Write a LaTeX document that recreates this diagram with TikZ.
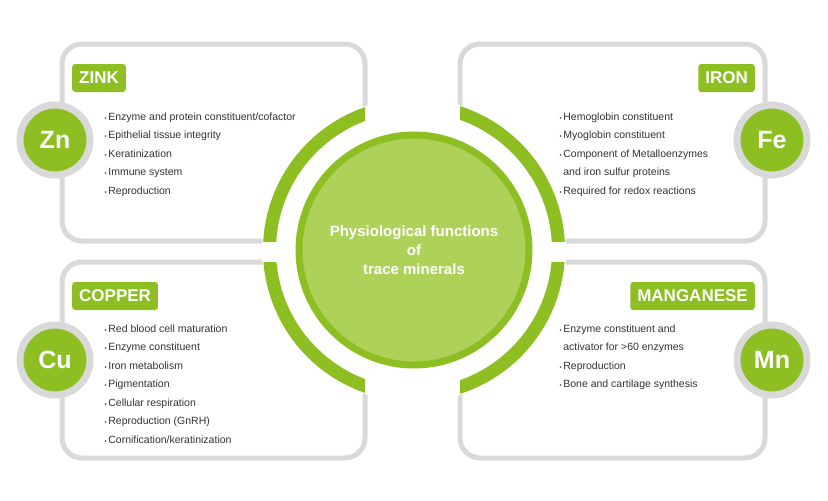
\documentclass[tikz,border=0pt]{standalone}
\usepackage{fontspec}
\setmainfont{Liberation Sans}
\definecolor{leaf}{HTML}{8DBE22}
\definecolor{lime}{HTML}{AED15A}
\definecolor{frame}{HTML}{D9D9D9}
\definecolor{ink}{HTML}{333333}
\newcommand\dotmark{{\fontsize{6}{6}\selectfont •}\,}
\begin{document}
\begin{tikzpicture}[x=1pt,y=-1pt,
    panel/.style={draw=frame, line width=5pt, rounded corners=20pt, fill=white},
    tag/.style={fill=leaf, rounded corners=3pt, text=white, font=\fontsize{17}{17}\selectfont\bfseries, inner xsep=7pt, minimum height=28pt, anchor=west},
    elem/.style={circle, fill=leaf, draw=frame, line width=7pt, minimum size=70pt, text=white, font=\fontsize{25}{25}\selectfont\bfseries},
    items/.style={anchor=north west, text=ink, font=\fontsize{10.5}{18.5}\selectfont, align=left}]
    \useasboundingbox (0,0) rectangle (828,501);

    % boxes
    \draw[panel] (62,44) rectangle (365,241);
    \draw[panel] (460,44) rectangle (765,241);
    \draw[panel] (62,262) rectangle (365,458);
    \draw[panel] (460,262) rectangle (765,458);

    % ring around the centre
    \coordinate (O) at (414,250);
    \fill[white] (O) circle (152pt);
    \foreach \bx/\by/\ex/\ey in {62/44/365/241, 460/44/765/241, 62/262/365/458, 460/262/765/458}{
        \begin{scope}
            \clip (\bx,\by) rectangle (\ex,\ey);
            \fill[leaf, even odd rule] (O) circle (151pt) circle (138pt);
        \end{scope}
    }
    \node[circle, fill=lime, draw=leaf, line width=7pt, minimum size=230pt, text=white,
        font=\fontsize{15}{19}\selectfont\bfseries, align=center] (hub) at (O)
        {Physiological functions\\of\\trace minerals};

    % headings
    \node[tag] (zink) at (72,78) {ZINK};
    \node[tag, anchor=east] (iron) at (755,78) {IRON};
    \node[tag] (copper) at (72,296) {COPPER};
    \node[tag, anchor=east] (mangan) at (755,296) {MANGANESE};

    % element badges
    \node[elem] (zn) at (55,140) {Zn};
    \node[elem] (fe) at (772,140) {Fe};
    \node[elem] (cu) at (55,360) {Cu};
    \node[elem] (mn) at (772,360) {Mn};

    % lists
    \node[items] (zinklist) at (101,109) {\dotmark Enzyme and protein constituent/cofactor\\\dotmark Epithelial tissue integrity\\\dotmark Keratinization\\\dotmark Immune system\\\dotmark Reproduction};
    \node[items] (ironlist) at (556,109) {\dotmark Hemoglobin constituent\\\dotmark Myoglobin constituent\\\dotmark Component of Metalloenzymes\\\phantom{\dotmark}and iron sulfur proteins\\\dotmark Required for redox reactions};
    \node[items] (copperlist) at (101,321) {\dotmark Red blood cell maturation\\\dotmark Enzyme constituent\\\dotmark Iron metabolism\\\dotmark Pigmentation\\\dotmark Cellular respiration\\\dotmark Reproduction (GnRH)\\\dotmark Cornification/keratinization};
    \node[items] (manganlist) at (556,321) {\dotmark Enzyme constituent and\\\phantom{\dotmark}activator for >60 enzymes\\\dotmark Reproduction\\\dotmark Bone and cartilage synthesis};
\end{tikzpicture}
\end{document}
